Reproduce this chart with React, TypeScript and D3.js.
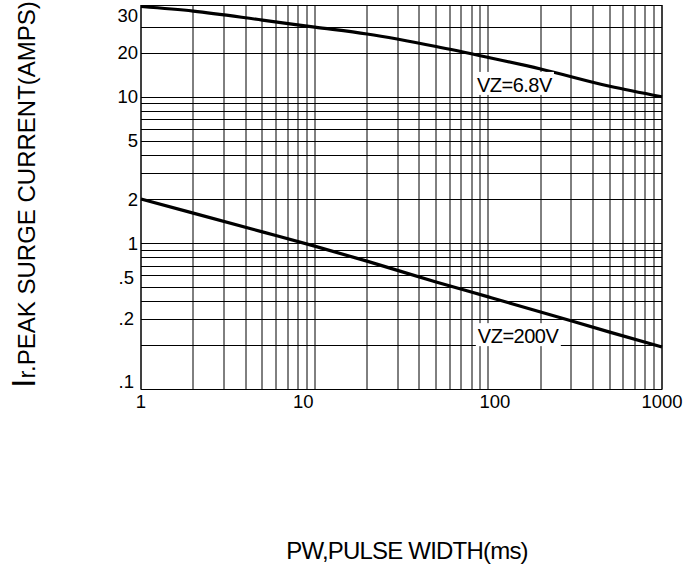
import React from "react";
import * as d3 from "d3";

// ---- data ----
const pulseWidth = [1, 2, 5, 10, 20, 50, 100, 200, 500, 1000];
const currentVz68 = [41.5, 38.6, 33.5, 30, 26.9, 22.1, 18.6, 15.5, 11.8, 10];
const currentVz200 = [2, 1.6, 1.19, 0.95, 0.75, 0.54, 0.427, 0.337, 0.245, 0.194];

const xTickText = ["1", "10", "100", "1000"];
const xTickAt = [1, 8.6, 109, 1000]; // where the labels sit in the picture
const yTickText = [".1", ".2", ".5", "1", "2", "5", "10", "20", "30"];
const yTickAt = [0.113, 0.305, 0.58, 1, 2, 5, 10, 20, 36];

const xGridValues = [1, 2, 3, 4, 5, 6, 7, 8, 9, 10, 20, 30, 40, 50, 60, 70, 80, 90, 100, 200, 300, 400, 500, 600, 700, 800, 900, 1000];
const yGridValues = [0.1, 0.2, 0.3, 0.4, 0.5, 0.6, 0.7, 0.8, 0.9, 1, 2, 3, 4, 5, 6, 7, 8, 9, 10, 20, 30];

const seriesLabels = ["VZ=6.8V", "VZ=200V"];
const seriesLabelAt = [
  [86, 10.8],
  [87, 0.206],
];

const W = 684;
const H = 573;
const FONT = "'Liberation Sans', Arial, Helvetica, sans-serif";

export default function App() {
  const x = d3.scaleLog().domain([1, 1000]).range([141, 662]);
  const y = d3.scaleLog().domain([0.1, 42.5]).range([389, 5]);

  const line = d3
    .line<[number, number]>()
    .x((d) => x(d[0]))
    .y((d) => y(d[1]))
    .curve(d3.curveMonotoneX);

  const s1 = pulseWidth.map((p, i) => [p, currentVz68[i]] as [number, number]);
  const s2 = pulseWidth.map((p, i) => [p, currentVz200[i]] as [number, number]);

  const top = y.range()[1];
  const bottom = y.range()[0];
  const left = x.range()[0];
  const right = x.range()[1];

  return (
    <svg
      width={W}
      height={H}
      style={{ position: "absolute", left: 0, top: 0, background: "#fff" }}
      fontFamily={FONT}
    >
      <rect x={0} y={0} width={W} height={H} fill="#fff" />
      {/* vertical grid */}
      {xGridValues.map((v) => {
        const xx = Math.round(x(v));
        return (
          <line key={"vx" + v} x1={xx} x2={xx} y1={top} y2={bottom} stroke="#000" strokeWidth={1} />
        );
      })}
      {/* horizontal grid */}
      {yGridValues.map((v) => {
        const yy = Math.round(y(v)) + 0.5;
        return (
          <line key={"hy" + v} x1={left} x2={right} y1={yy} y2={yy} stroke="#000" strokeWidth={1} />
        );
      })}
      {/* frame */}
      <rect
        x={left}
        y={Math.round(top) + 0.5}
        width={right - left}
        height={bottom - top}
        fill="none"
        stroke="#000"
        strokeWidth={1}
      />

      {/* curves */}
      <path d={line(s1) || ""} fill="none" stroke="#000" strokeWidth={3.2} />
      <path d={line(s2) || ""} fill="none" stroke="#000" strokeWidth={3.2} />

      {/* series labels with white boxes */}
      {seriesLabels.map((t, i) => {
        const lx = x(seriesLabelAt[i][0]);
        const by = y(seriesLabelAt[i][1]);
        return (
          <g key={t}>
            <rect x={lx - 2} y={by - 20} width={t === "VZ=6.8V" ? 79 : 85} height={23} fill="#fff" />
            <text x={lx} y={by} fontSize={20} letterSpacing={-0.5} fill="#000">
              {t}
            </text>
          </g>
        );
      })}

      {/* x tick labels */}
      {xTickText.map((t, i) => (
        <text key={"xt" + t} x={x(xTickAt[i])} y={408} fontSize={18.5} textAnchor="middle" fill="#000">
          {t}
        </text>
      ))}
      {/* y tick labels */}
      {yTickText.map((t, i) => (
        <text
          key={"yt" + t}
          x={t.startsWith(".") ? 134 : 138}
          y={y(yTickAt[i])}
          dy="0.36em"
          fontSize={18.5}
          textAnchor="end"
          fill="#000"
        >
          {t}
        </text>
      ))}

      {/* axis titles */}
      <text x={407} y={559} fontSize={24} textAnchor="middle" letterSpacing={-0.8} fill="#000">
        PW,PULSE WIDTH(ms)
      </text>
      <text transform="translate(35,388) rotate(-90)" fill="#000">
        <tspan fontSize={34}>I</tspan>
        <tspan fontSize={24}>r.PEAK SURGE CURRENT(AMPS)</tspan>
      </text>
    </svg>
  );
}
